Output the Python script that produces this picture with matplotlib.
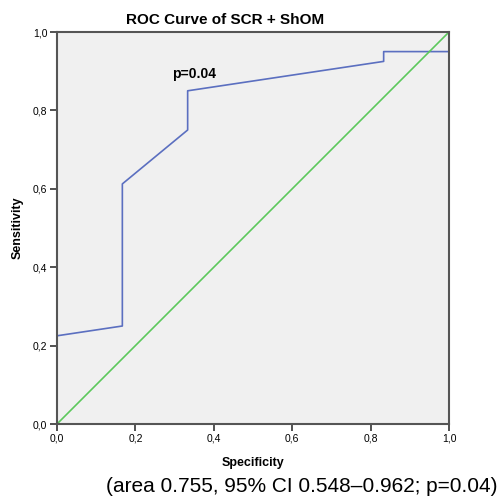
import matplotlib
matplotlib.use("Agg")
import matplotlib.pyplot as plt

plt.rcParams['font.family'] = ['Liberation Sans', 'DejaVu Sans']

# ROC curve
fpr = [0.0, 0.1667, 0.1667, 0.3333, 0.3333, 0.8333, 0.8333, 1.0]
tpr = [0.225, 0.25, 0.6125, 0.75, 0.85, 0.925, 0.95, 0.95]
ref_x = [0.0, 1.0]
ref_y = [0.0, 1.0]
ticks = [0.0, 0.2, 0.4, 0.6, 0.8, 1.0]
tick_labels = ['0,0', '0,2', '0,4', '0,6', '0,8', '1,0']

fig = plt.figure(figsize=(5.03, 5.00), dpi=100)
ax = fig.add_axes([57 / 503, 1 - 424 / 500, 392 / 503, 392 / 500])
ax.set_facecolor('#F0F0F0')

ax.plot(fpr, tpr, color='#5B6FC0', lw=1.2)
ax.plot(ref_x, ref_y, color='#5CC85C', lw=1.2)

ax.set_xlim(0, 1)
ax.set_ylim(0, 1)
ax.set_xticks(ticks)
ax.set_xticklabels(tick_labels)
ax.set_yticks(ticks)
ax.set_yticklabels(tick_labels)
ax.tick_params(direction='out', length=5, width=1.2, color='#333333',
               labelsize=7.5, pad=2)
for s in ax.spines.values():
    s.set_color('#555555')
    s.set_linewidth(1.5)

ax.text(0.35, 0.893, 'p=0.04', fontsize=10, fontweight='bold',
        ha='center', va='center')

ax.set_xlabel('Specificity', fontsize=9, fontweight='bold')
ax.set_ylabel('Sensitivity', fontsize=9, fontweight='bold')
ax.xaxis.set_label_coords(0.5, -0.1)
ax.yaxis.set_label_coords(-0.1, 0.5)
ax.xaxis.label.set_va('center')
ax.yaxis.label.set_va('center')

fig.text(225 / 503, 1 - 20 / 500, 'ROC Curve of SCR + ShOM', fontsize=11,
         fontweight='bold', ha='center', va='center')
fig.text(498 / 503, 1 - 487 / 500, '(area 0.755, 95% CI 0.548\u20130.962; p=0.04)',
         fontsize=15, ha='right', va='center')

fig.savefig('out.png', dpi=100)
